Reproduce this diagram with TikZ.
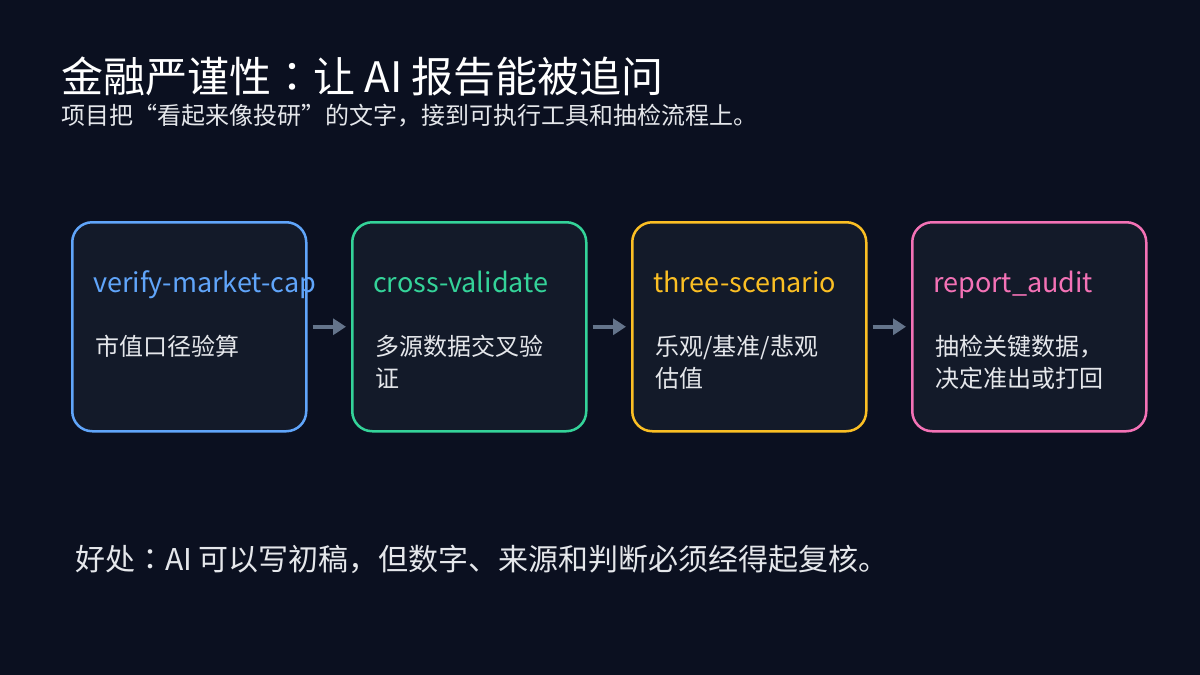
\documentclass[tikz,border=0pt]{standalone}
\usepackage{fontspec}
\setmainfont{Noto Sans CJK SC}
\newfontfamily\jpcolon{Noto Sans CJK JP}
\usetikzlibrary{arrows.meta}

\definecolor{bgnavy}{HTML}{0B1020}
\definecolor{cardfill}{HTML}{131A29}
\definecolor{skyblue}{HTML}{60A5FA}
\definecolor{mintgreen}{HTML}{34D399}
\definecolor{ambergold}{HTML}{FBBF24}
\definecolor{rosepink}{HTML}{F472B6}
\definecolor{arrowgray}{HTML}{64748B}
\definecolor{softwhite}{HTML}{E5E7EB}

\begin{document}
\begin{tikzpicture}[x=1pt, y=-1pt,
    card/.style={draw=#1, line width=2.5pt, fill=cardfill, rounded corners=20pt,
      minimum width=234pt, minimum height=209pt, inner sep=0pt, anchor=north west},
    tool/.style={text=#1, font=\fontsize{27}{30}\selectfont, anchor=base west, inner sep=0pt},
    note/.style={text=softwhite, font=\fontsize{24}{32}\selectfont, anchor=base west,
      align=left, inner sep=0pt},
    flow/.style={-{Triangle[length=13pt,width=16pt]}, line width=4pt, draw=arrowgray,
      shorten <=5pt, shorten >=5pt}]

% Hintergrund
\fill[bgnavy] (0,0) rectangle (1200,675);
\useasboundingbox (0,0) rectangle (1200,675);

% Titel
\node[text=white, font=\fontsize{42}{46}\selectfont, anchor=base west, inner sep=0pt]
  (title) at (61,92) {金融严谨性{\jpcolon ：}让 AI 报告能被追问};
\node[text=softwhite, font=\fontsize{24}{28}\selectfont, anchor=base west, inner sep=0pt]
  (subtitle) at (61,124) {项目把“看起来像投研”的文字，接到可执行工具和抽检流程上。};

% Karten
\node[card=skyblue]   (C1) at (71,221)  {};
\node[card=mintgreen] (C2) at (351,221) {};
\node[card=ambergold] (C3) at (631,221) {};
\node[card=rosepink]  (C4) at (911,221) {};

\node[tool=skyblue]   (T1) at (93,292)  {verify-market-cap};
\node[tool=mintgreen] (T2) at (373,292) {cross-validate};
\node[tool=ambergold] (T3) at (653,292) {three-scenario};
\node[tool=rosepink]  (T4) at (933,292) {report\_audit};

% base = letzte Zeile
\node[note] (N1) at (95,355)  {市值口径验算};
\node[note] (N2) at (375,387) {多源数据交叉验\\证};
\node[note] (N3) at (655,387) {乐观/基准/悲观\\估值};
\node[note] (N4) at (935,387) {抽检关键数据，\\决定准出或打回};

% Pfeile
\draw[flow] (C1) -- (C2);
\draw[flow] (C2) -- (C3);
\draw[flow] (C3) -- (C4);

% Fazit
\node[text=softwhite, font=\fontsize{30}{34}\selectfont, anchor=base west, inner sep=0pt]
  (summary) at (75,570) {好处{\jpcolon ：}AI 可以写初稿，但数字、来源和判断必须经得起复核。};

\end{tikzpicture}
\end{document}
